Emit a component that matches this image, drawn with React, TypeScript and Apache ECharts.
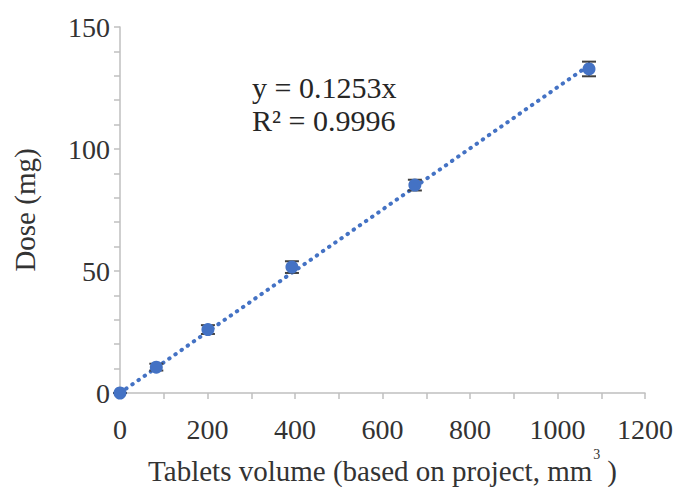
import React, { useEffect, useRef } from "react";
import * as echarts from "echarts";

const volumes = [0, 83, 201, 393, 674, 1072];
const doses = [0, 10.6, 26, 51.6, 85.2, 132.8];
const errors = [0, 1.4, 1.8, 2.4, 2.2, 3];
const slope = 0.1253;
const trendEnd = 1075;
const equationLines = ["y = 0.1253x", "R² = 0.9996"];

const FONT = "Liberation Serif";
const BLUE = "#4472C4";

export default function App() {
  const ref = useRef<HTMLDivElement>(null);
  useEffect(() => {
    if (!ref.current) return;
    const chart = echarts.init(ref.current, undefined, { renderer: "svg" });
    const points = volumes.map((v, i) => [v, doses[i]]);
    const errData = volumes.map((v, i) => [v, doses[i] - errors[i], doses[i] + errors[i]]);
    chart.setOption({
      animation: false,
      backgroundColor: "#ffffff",
      grid: { left: 120, right: 32, top: 27, bottom: 94, containLabel: false, outerBoundsMode: "none" },
      xAxis: {
        type: "value",
        min: 0,
        max: 1200,
        interval: 200,
        name: "Tablets volume (based on project, mm{sup|3})",
        nameLocation: "middle",
        nameGap: 52,
        nameTextStyle: {
          fontFamily: FONT,
          fontSize: 29,
          color: "#333333",
          rich: {
            sup: { fontFamily: FONT, fontSize: 14, color: "#333333", verticalAlign: "top", padding: [0, 7, 32, 1] },
          },
        },
        axisLine: { show: true, lineStyle: { color: "#BFBFBF", width: 1.5 } },
        axisTick: { show: true, length: 6, lineStyle: { color: "#BFBFBF", width: 1.5 } },
        minorTick: { show: true, splitNumber: 2, length: 6, lineStyle: { color: "#BFBFBF", width: 1.5 } },
        splitLine: { show: false },
        axisLabel: { fontFamily: FONT, fontSize: 28, color: "#333333", margin: 22, formatter: (v: number) => String(v) },
      },
      yAxis: {
        type: "value",
        min: 0,
        max: 150,
        interval: 50,
        name: "Dose (mg)",
        nameLocation: "middle",
        nameGap: 81,
        nameTextStyle: { fontFamily: FONT, fontSize: 29, color: "#333333" },
        axisLine: { show: true, lineStyle: { color: "#BFBFBF", width: 1.5 } },
        axisTick: { show: true, length: 6, lineStyle: { color: "#BFBFBF", width: 1.5 } },
        minorTick: { show: true, splitNumber: 5, length: 6, lineStyle: { color: "#BFBFBF", width: 1.5 } },
        splitLine: { show: false },
        axisLabel: { fontFamily: FONT, fontSize: 28, color: "#333333", margin: 10, formatter: (v: number) => String(v) },
      },
      series: [
        {
          type: "line",
          data: [
            [0, 0],
            [trendEnd, slope * trendEnd],
          ],
          symbol: "none",
          lineStyle: { color: BLUE, width: 4, type: [0.5, 7], cap: "round" },
          z: 2,
        },
        {
          type: "custom",
          data: errData,
          z: 3,
          renderItem: (params: any, api: any) => {
            const x = api.value(0);
            const lo = api.coord([x, api.value(1)]);
            const hi = api.coord([x, api.value(2)]);
            const hw = 7;
            const style = { stroke: "#404040", lineWidth: 2 };
            return {
              type: "group",
              children: [
                { type: "line", shape: { x1: lo[0], y1: lo[1], x2: hi[0], y2: hi[1] }, style },
                { type: "line", shape: { x1: lo[0] - hw, y1: lo[1], x2: lo[0] + hw, y2: lo[1] }, style },
                { type: "line", shape: { x1: hi[0] - hw, y1: hi[1], x2: hi[0] + hw, y2: hi[1] }, style },
              ],
            };
          },
        },
        {
          type: "scatter",
          data: points,
          symbol: "circle",
          symbolSize: 13,
          itemStyle: { color: BLUE, opacity: 1 },
          z: 4,
        },
      ],
      graphic: [
        {
          type: "text",
          left: 252,
          top: 71,
          style: {
            text: equationLines.join("\n"),
            fontFamily: FONT,
            fontSize: 30,
            lineHeight: 33,
            fill: "#262626",
          },
        },
      ],
    });
    return () => chart.dispose();
  }, []);
  return <div ref={ref} style={{ width: 677, height: 487, position: "absolute", left: 0, top: 0 }} />;
}
